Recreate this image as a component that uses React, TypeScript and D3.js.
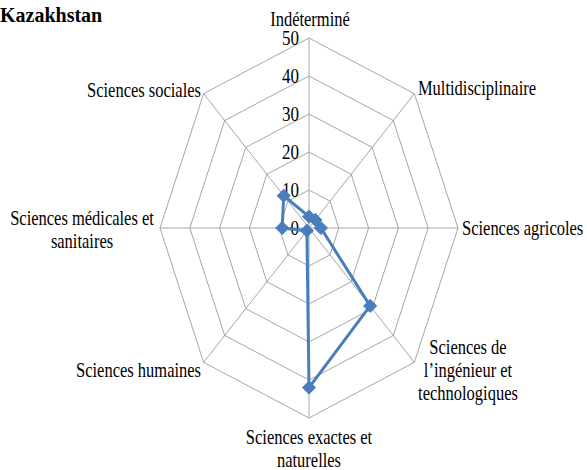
import React from "react";
import * as d3 from "d3";

const title = "Kazakhstan";
const categories = [
  "Indéterminé",
  "Multidisciplinaire",
  "Sciences agricoles",
  "Sciences de l’ingénieur et technologiques",
  "Sciences exactes et naturelles",
  "Sciences humaines",
  "Sciences médicales et sanitaires",
  "Sciences sociales",
];
const values = [3, 3, 4, 29, 42, 1, 9, 12];
const ticks = [0, 10, 20, 30, 40, 50];

// label line breaks & placement
const labelLines: string[][] = [
  ["Indéterminé"],
  ["Multidisciplinaire"],
  ["Sciences agricoles"],
  ["Sciences de", "l’ingénieur et", "technologiques"],
  ["Sciences exactes et", "naturelles"],
  ["Sciences humaines"],
  ["Sciences médicales et", "sanitaires"],
  ["Sciences sociales"],
];
const labelPos: { x: number; y: number; anchor: "start" | "middle" | "end" }[] = [
  { x: 310, y: 19, anchor: "middle" },
  { x: 477, y: 88, anchor: "middle" },
  { x: 462, y: 228, anchor: "start" },
  { x: 468, y: 347, anchor: "middle" },
  { x: 309, y: 437, anchor: "middle" },
  { x: 201, y: 370, anchor: "end" },
  { x: 82, y: 218, anchor: "middle" },
  { x: 201, y: 90, anchor: "end" },
];

const W = 587;
const H = 470;
const cx = 309;
const cy = 228;
const rxS = d3.scaleLinear().domain([0, 50]).range([0, 149]);
const ryS = d3.scaleLinear().domain([0, 50]).range([0, 190]);
const angle = d3
  .scaleLinear()
  .domain([0, categories.length])
  .range([0, 2 * Math.PI]);

function pt(i: number, v: number): [number, number] {
  const a = angle(i);
  return [cx + Math.sin(a) * rxS(v), cy - Math.cos(a) * ryS(v)];
}

const FONT = "'Liberation Serif', 'Times New Roman', serif";
const GRID = "#a6a6a6";
const SERIES = "#4a7ebb";

export default function App() {
  const n = categories.length;
  const line = d3.line<[number, number]>().curve(d3.curveLinearClosed);
  const dataPts = values.map((v, i) => pt(i, v));
  const diamond = d3.symbol().type(d3.symbolDiamond2).size(110)();
  return (
    <svg
      width={W}
      height={H}
      style={{ position: "absolute", left: 0, top: 0, background: "#fff" }}
    >
      <text
        x={0}
        y={22}
        fontFamily={FONT}
        fontWeight="bold"
        fontSize={20}
        fill="#000"
      >
        {title}
      </text>
      {/* grid rings */}
      {ticks
        .filter((t) => t > 0)
        .map((t) => (
          <path
            key={"r" + t}
            d={line(d3.range(n).map((i) => pt(i, t)))!}
            fill="none"
            stroke={GRID}
            strokeWidth={1}
          />
        ))}
      {/* spokes */}
      {d3.range(n).map((i) => {
        const [x, y] = pt(i, 50);
        return (
          <line
            key={"s" + i}
            x1={cx}
            y1={cy}
            x2={x}
            y2={y}
            stroke={GRID}
            strokeWidth={1}
          />
        );
      })}
      {/* tick labels */}
      {ticks.map((t) => (
        <text
          key={"t" + t}
          transform={`translate(${cx - 10},${cy - ryS(t)}) scale(1,1.25)`}
          textAnchor="end"
          dy="0.35em"
          fontFamily={FONT}
          fontSize={17}
          fill="#000"
        >
          {t}
        </text>
      ))}
      {/* series */}
      <path
        d={line(dataPts)!}
        fill="none"
        stroke={SERIES}
        strokeWidth={3}
        strokeLinejoin="round"
      />
      {dataPts.map(([x, y], i) => (
        <path
          key={"m" + i}
          d={diamond!}
          transform={`translate(${x},${y})`}
          fill={SERIES}
          stroke={SERIES}
        />
      ))}
      {/* category labels */}
      {labelLines.map((lines, i) =>
        lines.map((l, j) => (
          <text
            key={"l" + i + "_" + j}
            transform={`translate(${labelPos[i].x},${labelPos[i].y + j * 23}) scale(1,1.25)`}
            textAnchor={labelPos[i].anchor}
            dy="0.35em"
            fontFamily={FONT}
            fontSize={16.5}
            fill="#000"
          >
            {l}
          </text>
        ))
      )}
    </svg>
  );
}
